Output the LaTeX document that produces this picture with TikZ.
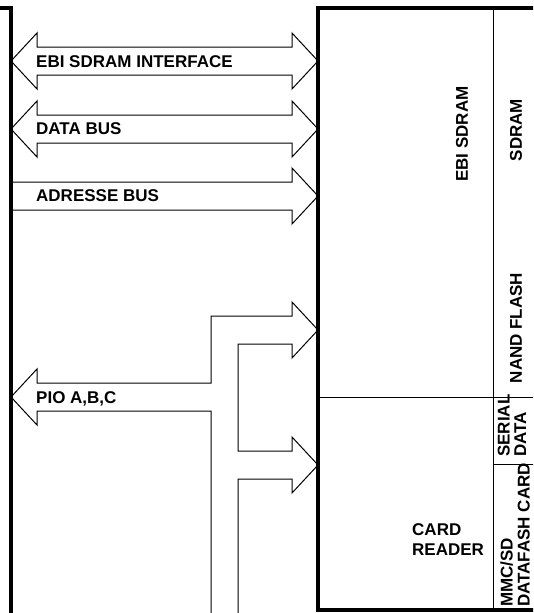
\documentclass[tikz,border=0pt]{standalone}
\usepackage{fontspec}
\setmainfont{Liberation Sans}
\newfontfamily\lblfont{Liberation Sans Bold}
\usetikzlibrary{positioning}

\begin{document}
\begin{tikzpicture}[
  x=1pt, y=-1pt,
  every node/.style={font=\lblfont\fontsize{17}{19}\selectfont, inner sep=0pt},
  lbl/.style={anchor=base west},
  rlbl/.style={rotate=90, anchor=west, align=left},
  frame/.style={line width=3.2pt},
  busline/.style={line width=1pt, line join=miter},
  divider/.style={line width=1pt}
]
  \useasboundingbox (0,0) rectangle (533,613);
  \clip (0,0) rectangle (533,613);

  % processor side and memory block
  \draw[frame] (0,8) -- (11,8) -- (11,615);
  \draw[frame] (540,8) -- (318,8) -- (318,610) -- (540,610);
  \draw[divider] (493,8) -- (493,610);
  \draw[divider] (318,397) -- (540,397);
  \draw[divider] (493,464) -- (540,464);

  % buses
  \draw[busline] (11,61) -- (37,33) -- (37,47) -- (292,47) -- (292,33) -- (318,61)
    -- (292,89) -- (292,75) -- (37,75) -- (37,89) -- cycle;
  \draw[busline] (11,129) -- (37,101) -- (37,115) -- (292,115) -- (292,101) -- (318,129)
    -- (292,157) -- (292,143) -- (37,143) -- (37,157) -- cycle;
  \draw[busline] (11,182) -- (292,182) -- (292,168) -- (318,196)
    -- (292,224) -- (292,210) -- (11,210);
  \draw[busline] (211,615) -- (211,411) -- (37,411) -- (37,425) -- (11,397)
    -- (37,369) -- (37,383) -- (211,383) -- (211,316) -- (292,316) -- (292,302)
    -- (318,330) -- (292,358) -- (292,344) -- (238,344) -- (238,451) -- (292,451)
    -- (292,437) -- (318,465) -- (292,493) -- (292,479) -- (238,479) -- (238,615);

  \node[lbl] (ebiif) at (36,67) {EBI SDRAM INTERFACE};
  \node[lbl] (data) at (36,134) {DATA BUS};
  \node[lbl] (addr) at (36,201) {ADRESSE BUS};
  \node[lbl] (pio) at (36,403) {PIO A,B,C};

  % memory labels
  \node[rotate=90] (ebisd) at (462,134) {EBI SDRAM};
  \node[rotate=90] (sdram) at (516,130) {SDRAM};
  \node[rotate=90] (nand) at (516,328) {NAND FLASH};
  \node[rlbl, font=\lblfont\fontsize{17}{16.5}\selectfont] (serial) at (512,457)
    {SERIAL\\DATA};
  \node[rlbl, font=\lblfont\fontsize{17}{17}\selectfont] (mmc) at (515,607)
    {MMC/SD\\DATAFASH CARD};
  \node[anchor=west, align=left, font=\lblfont\fontsize{17}{20}\selectfont]
    (card) at (412,540) {CARD\\READER};
\end{tikzpicture}
\end{document}
